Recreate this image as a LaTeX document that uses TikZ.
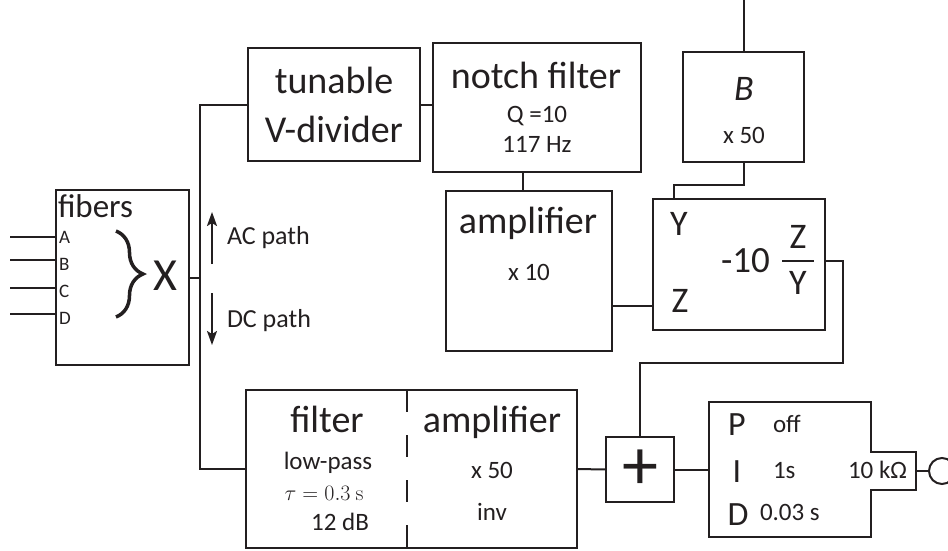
\documentclass[tikz,border=0pt]{standalone}
\usepackage{fix-cm}
\usepackage[no-math]{fontspec}
\setmainfont{Carlito}
\usetikzlibrary{arrows.meta,calc,decorations.pathreplacing}
\definecolor{ink}{HTML}{231F20}
\newcommand\fs[1]{\fontsize{#1}{#1}\selectfont}
\begin{document}
\begin{tikzpicture}[x=1pt,y=-1pt,line width=2pt,color=ink,
  box/.style={draw,rectangle,inner sep=0pt,outer sep=0pt},
  lbl/.style={anchor=base,inner sep=0pt,outer sep=0pt},
  lblw/.style={anchor=base west,inner sep=0pt,outer sep=0pt},
  big/.style={font=\fs{38}},
  small/.style={font=\fs{25}}]
\useasboundingbox (0,0) rectangle (948,550);

% ---------- boxes ----------
\node[box,minimum width=133,minimum height=175] (fib) at (122.5,277.5) {};
\node[box,minimum width=172,minimum height=113] (tun) at (334,104.5) {};
\node[box,minimum width=208,minimum height=129] (notch) at (537,107.5) {};
\node[box,minimum width=166,minimum height=160] (amp) at (529,271) {};
\node[box,minimum width=121,minimum height=110] (bbox) at (743.5,107) {};
\node[box,minimum width=172,minimum height=131] (ratio) at (739,264.5) {};
\node[box,minimum width=331,minimum height=158] (filt) at (411.5,469) {};
\node[box,minimum width=68,minimum height=65] (plus) at (640,469.5) {};
\node[rectangle,inner sep=0pt,outer sep=0pt,minimum width=162,minimum height=135] (pid) at (790,469.5) {};
\node[circle,draw,minimum size=26,inner sep=0pt] (out) at (942,471) {};

% PID outline with tab
\draw ($(pid.east)+(0,-17.5)$) -- (pid.north east) -- (pid.north west) -- (pid.south west)
  -- (pid.south east) -- ($(pid.east)+(0,20.5)$) -- ++(45,0) -- ++(0,-38) -- cycle;
\coordinate (tab) at (916,471);

% dashed divider in filter box
\coordinate (dv) at (407,0);
\draw[dash pattern=on 22pt off 23pt] (dv |- filt.north) -- (dv |- filt.south);

% ---------- fibers ----------
\node[lblw,font=\fs{33}] (tfib) at (58,217) {fibers};
\node[lblw,font=\fs{19}] (tA) at (59,243) {A};
\node[lblw,font=\fs{19}] (tB) at (59,270) {B};
\node[lblw,font=\fs{19}] (tC) at (59,297) {C};
\node[lblw,font=\fs{19}] (tD) at (59,324) {D};
\node[lbl,font=\fs{46}] (tX) at (165,290) {X};
\draw[line width=3.5pt,decorate,decoration={brace,amplitude=27pt}] (116,231) -- (116,317);
\coordinate (iA) at (10,237);
\coordinate (iB) at (10,260);
\coordinate (iC) at (10,288);
\coordinate (iD) at (10,314);
\foreach \p in {iA,iB,iC,iD} \draw (\p) -- (\p -| fib.west);

% bus
\coordinate (busx) at (199.5,300);
\draw (tun.west) -| (busx) |- (filt.west);
\draw (fib.east) -- (fib.east -| busx);

% AC / DC arrows
\coordinate (acs) at (212,264);
\coordinate (ace) at (212,212);
\coordinate (dcs) at (212,293);
\coordinate (dce) at (212,345);
\draw[-{Stealth[length=14pt,width=10pt,inset=3pt]}] (acs) -- (ace);
\draw[-{Stealth[length=14pt,width=10pt,inset=3pt]}] (dcs) -- (dce);
\node[lblw,font=\fs{26}] (tac) at (227,244) {AC path};
\node[lblw,font=\fs{26}] (tdc) at (227,327) {DC path};

% ---------- upper path ----------
\node[lbl,big] (ttun1) at (334,93) {tunable};
\node[lbl,big] (ttun2) at (334,142) {V-divider};
\node[lbl,big] (tnot) at (536,88) {notch filter};
\node[lbl,small] (tq) at (537,122) {Q =10};
\node[lbl,small] (thz) at (537,152) {117 Hz};
\node[lbl,big] (tamp) at (528,233) {amplifier};
\node[lbl,small] (tx10) at (529,280) {x 10};
\node[lbl,font=\fs{36}\itshape] (tB2) at (744,100) {B};
\node[lbl,small] (tx50) at (744,143) {x 50};
\node[lbl,font=\fs{36}] (tY) at (679,235) {Y};
\node[lbl,font=\fs{36}] (tZ) at (680,312) {Z};
\node[lblw,font=\fs{37}] (tm10) at (721,272) {-10};
\node[lbl,font=\fs{36}] (tfz) at (798,248) {Z};
\node[lbl,font=\fs{36}] (tfy) at (798,294) {Y};
\draw[line width=2.5pt] (782,261) -- (814,261);

\draw (tun.east) -- (tun.east -| notch.west);
\coordinate (nx) at (523,0);
\draw (nx |- notch.south) -- (nx |- amp.north);
\coordinate (zz) at (0,306);
\draw (amp.east |- zz) -- (ratio.west |- zz);
\coordinate (topin) at (744,0);
\draw (bbox.north) -- (bbox.north |- topin);
\coordinate (yx) at (674,185);
\draw (bbox.south) |- (yx) -- (yx |- ratio.north);
\coordinate (ro) at (843,261);
\coordinate (rj) at (843,363);
\draw (ratio.east |- ro) -- (ro) -- (rj) -| (plus.north);

% ---------- lower path ----------
\node[lbl,big] (tfil) at (327,432) {filter};
\node[lbl,small] (tlp) at (328,469) {low-pass};
\node[lbl,font=\fs{22}] (ttau) at (324,500) {$\tau = 0.3\ \mathrm{s}$};
\node[lbl,small] (tdb) at (340,530) {12 dB};
\node[lbl,big] (tamp2) at (492,432) {amplifier};
\node[lbl,small] (tx502) at (492,478) {x 50};
\node[lbl,small] (tinv) at (492,520) {inv};
\node[inner sep=0pt,font=\fs{72}] (tplus) at (640,469.5) {+};

\draw (filt.east) -- (plus.west);
\draw (plus.east) -- (plus.east -| pid.west);

% ---------- PID ----------
\node[lbl,font=\fs{34}] (tP) at (737,435) {P};
\node[lbl,font=\fs{34}] (tI) at (737,482) {I};
\node[lbl,font=\fs{34}] (tDD) at (738,525) {D};
\node[lblw,small] (toff) at (773,432) {off};
\node[lblw,small] (t1s) at (773,478) {1s};
\node[lblw,small] (td) at (760,520) {0.03 s};
\node[lblw,small] (tohm) at (848,478) {10 kΩ};
\draw (tab) -- (out.west);
\end{tikzpicture}
\end{document}
